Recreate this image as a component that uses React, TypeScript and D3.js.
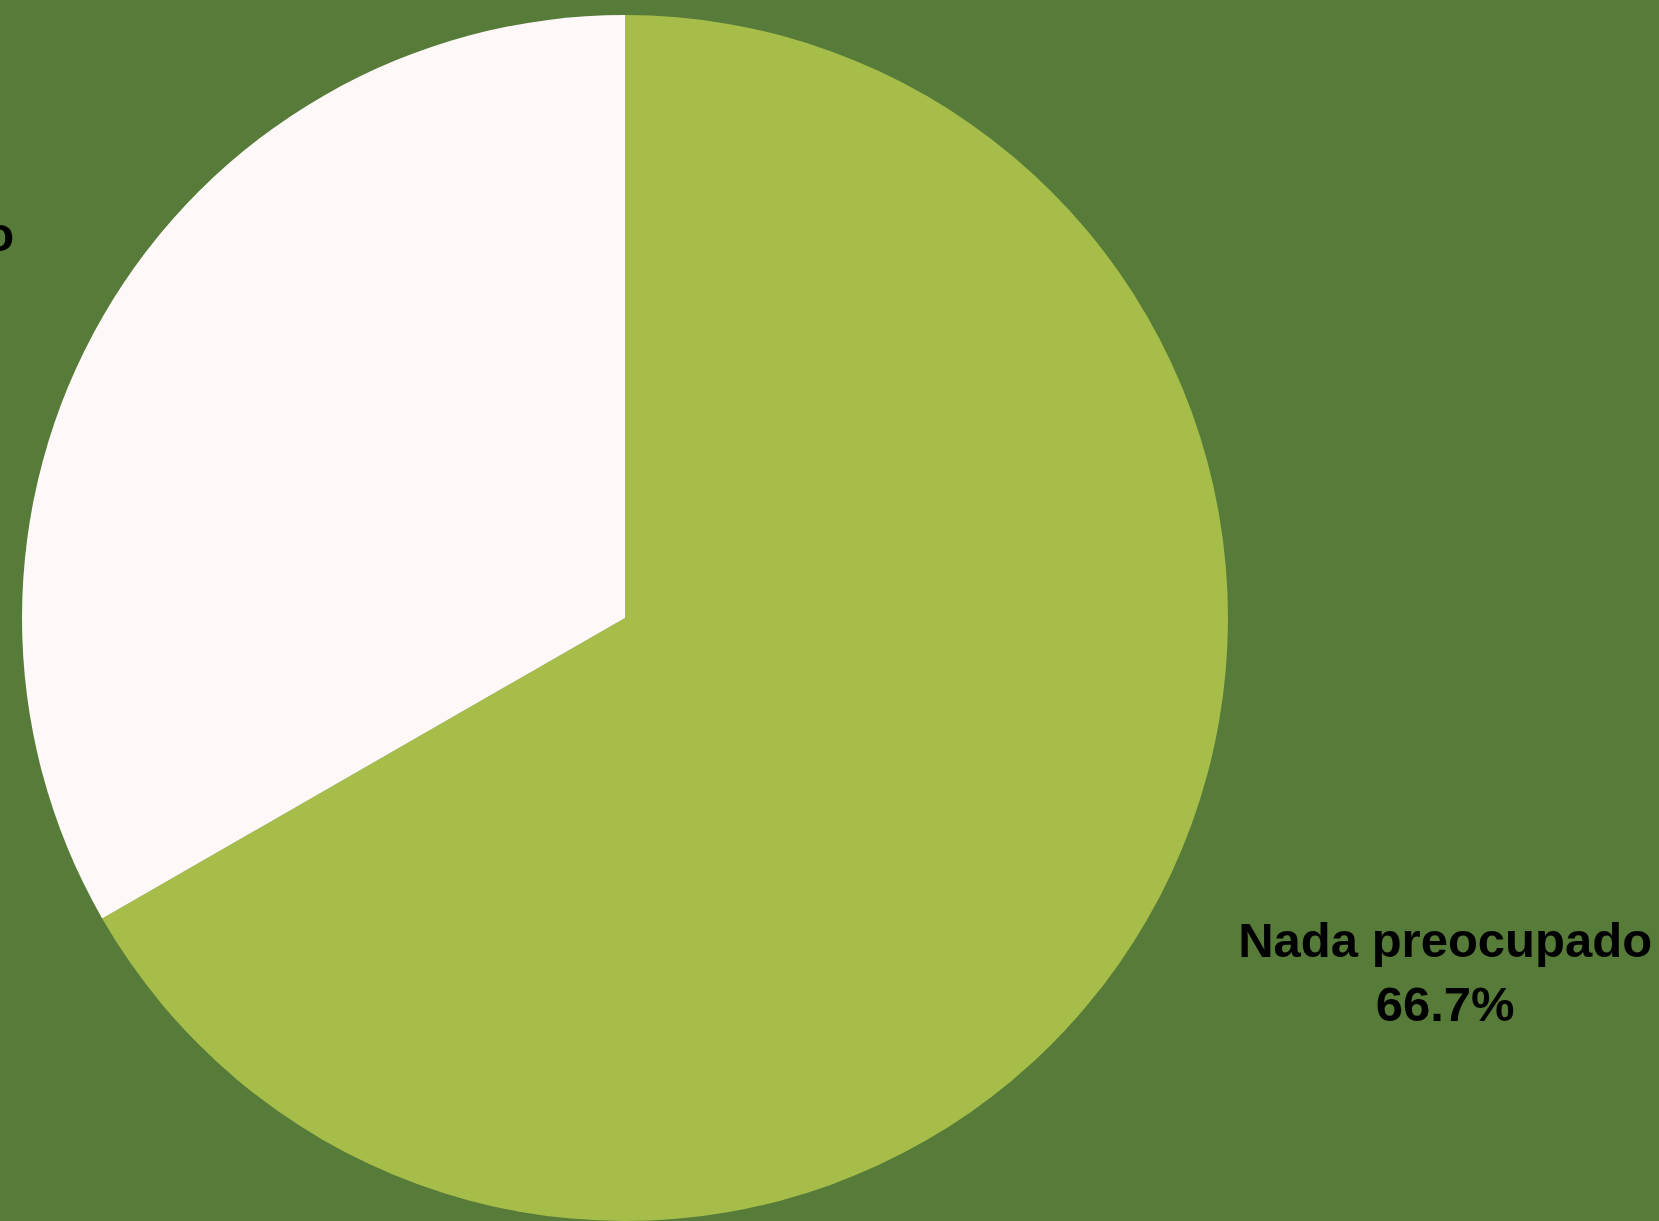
import React from "react";
import * as d3 from "d3";

const categories = ["Nada preocupado", "Algo preocupado"];
const values = [66.7, 33.3];
const valueLabels = ["66.7%", "33.3%"];
const colors = ["#A7BD4A", "#FEF9F8"];

const W = 1659;
const H = 1221;
const BG = "#577C3A";

export default function App() {
  const cx = 625;
  const cy = 618;
  const r = 603;
  const pie = d3.pie<number>().sort(null).value((d) => d);
  const arcs = pie(values);
  const arcGen = d3.arc<d3.PieArcDatum<number>>().innerRadius(0).outerRadius(r);
  const labelRx = 943;
  const labelRy = 705;
  const fontSize = 49;
  const lineGap = 64;

  return (
    <svg
      width={W}
      height={H}
      style={{ position: "absolute", left: 0, top: 0, display: "block" }}
    >
      <rect x={0} y={0} width={W} height={H} fill={BG} />
      <g transform={`translate(${cx},${cy})`}>
        {arcs.map((a, i) => (
          <path key={i} d={arcGen(a) || ""} fill={colors[i]} />
        ))}
        {arcs.map((a, i) => {
          const mid = (a.startAngle + a.endAngle) / 2;
          const x = Math.sin(mid) * labelRx + 4;
          const y = -Math.cos(mid) * labelRy - 14;
          return (
            <text
              key={"l" + i}
              x={x}
              y={y}
              textAnchor="middle"
              fontFamily="'Liberation Sans', Arial, sans-serif"
              fontWeight="bold"
              fontSize={fontSize}
              fill="#000"
            >
              <tspan x={x} dy={0}>{categories[i]}</tspan>
              <tspan x={x} dy={lineGap}>{valueLabels[i]}</tspan>
            </text>
          );
        })}
      </g>
    </svg>
  );
}
